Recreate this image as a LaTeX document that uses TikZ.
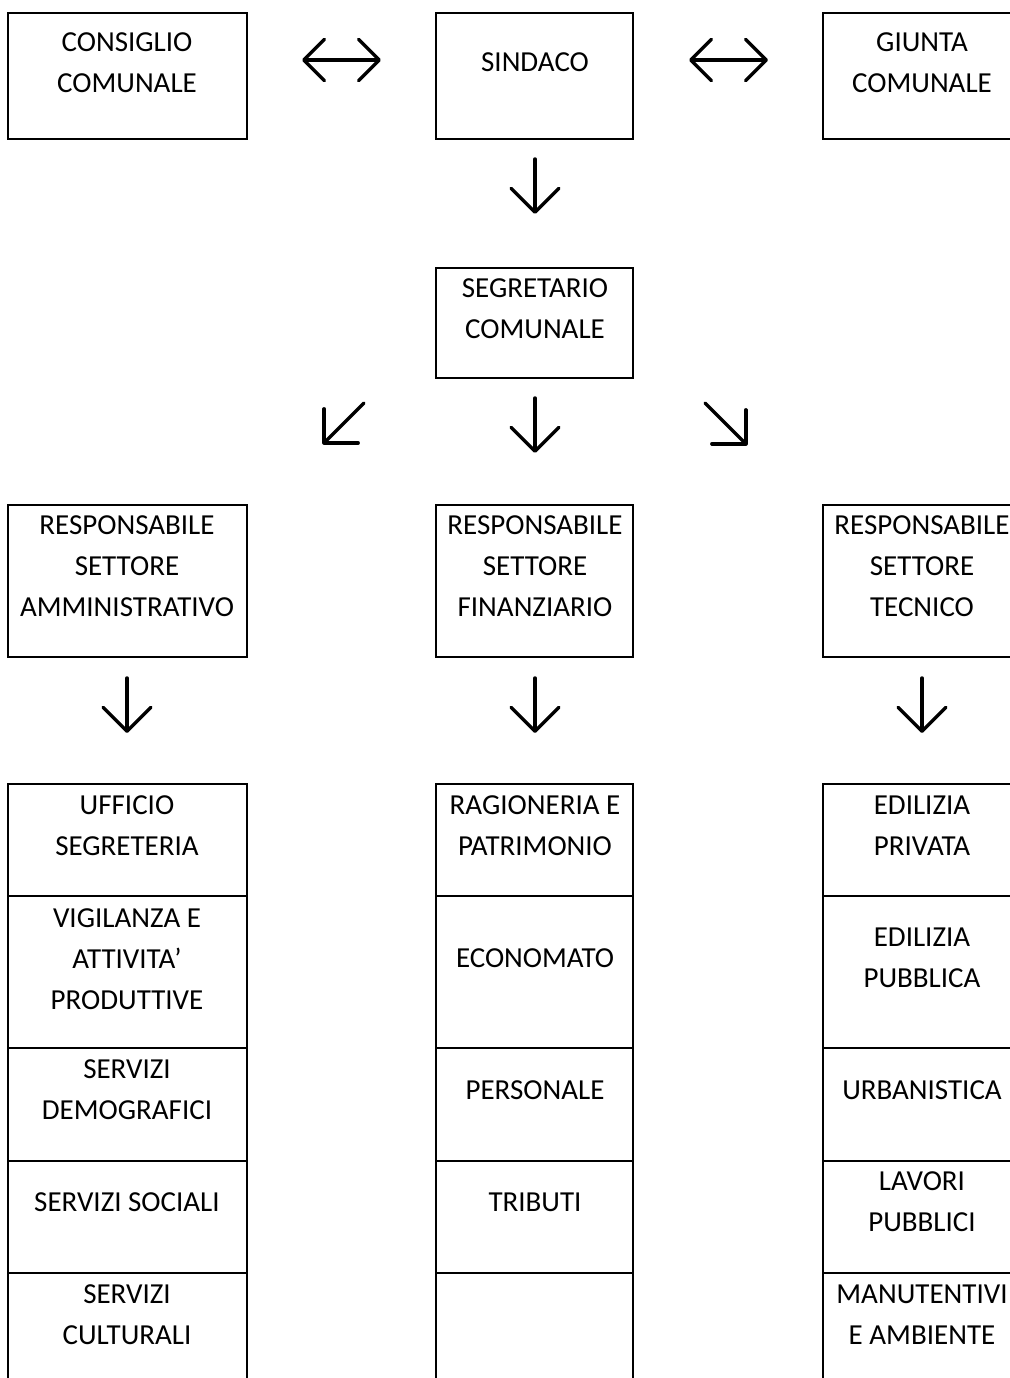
\documentclass[tikz,border=0pt]{standalone}
\usepackage{fontspec}
\setmainfont{Carlito}
\usetikzlibrary{arrows.meta,fit}
\tikzset{
  cellbox/.style={draw, line width=2.1pt, inner sep=0pt},
  txt/.style={inner sep=0pt, align=center, font=\fontsize{21.75}{30.75}\selectfont},
  barb/.tip={Straight Barb[length=18pt,width=36pt,line cap=round,line join=round]},
  sbarb/.tip={Straight Barb[length=15.5pt,width=31pt,line cap=round,line join=round]},
  arr/.style={line width=2.6pt, line cap=round, -barb},
  darr/.style={line width=2.6pt, line cap=round, sbarb-sbarb},
}
\begin{document}
\begin{tikzpicture}[x=0.75pt,y=-0.75pt]
\useasboundingbox (0,0) rectangle (1010,1378);
\clip (0,0) rectangle (1010,1378);
\fill[white] (0,0) rectangle (1010,1378);

% top row
\node[cellbox, fit={(8,13) (247,139)}] (consiglio) {};
\node[cellbox, fit={(436,13) (633,139)}] (sindaco) {};
\node[cellbox, fit={(823,13) (1021,139)}] (giunta) {};
\node[txt] (tconsiglio) at (127,63) {CONSIGLIO\\COMUNALE};
\node[txt] (tsindaco) at (535,62) {SINDACO};
\node[txt] (tgiunta) at (922,63) {GIUNTA\\COMUNALE};

\coordinate (h1a) at (302,60); \coordinate (h1b) at (381,60);
\coordinate (h2a) at (689,60); \coordinate (h2b) at (768,60);
\draw[darr] (h1a) -- (h1b);
\draw[darr] (h2a) -- (h2b);

\coordinate (v1a) at (535,159); \coordinate (v1b) at (535,214);
\draw[arr] (v1a) -- (v1b);

% segretario
\node[cellbox, fit={(436,268) (633,378)}] (segretario) {};
\node[txt] (tsegretario) at (535,309) {SEGRETARIO\\COMUNALE};

\coordinate (dla) at (364,403); \coordinate (dlb) at (323,444);
\coordinate (dma) at (535,398); \coordinate (dmb) at (535,453);
\coordinate (dra) at (705,403); \coordinate (drb) at (747,445);
\draw[arr] (dla) -- (dlb);
\draw[arr] (dma) -- (dmb);
\draw[arr] (dra) -- (drb);

% responsabili
\node[cellbox, fit={(8,505) (247,657)}] (ramm) {};
\node[cellbox, fit={(436,505) (633,657)}] (rfin) {};
\node[cellbox, fit={(823,505) (1021,657)}] (rtec) {};
\node[txt] (tramm) at (127,566) {RESPONSABILE\\SETTORE\\AMMINISTRATIVO};
\node[txt] (trfin) at (535,566) {RESPONSABILE\\SETTORE\\FINANZIARIO};
\node[txt] (trtec) at (922,566) {RESPONSABILE\\SETTORE\\TECNICO};

\coordinate (a1a) at (127,678); \coordinate (a1b) at (127,733);
\coordinate (a2a) at (535,678); \coordinate (a2b) at (535,733);
\coordinate (a3a) at (922,678); \coordinate (a3b) at (922,733);
\draw[arr] (a1a) -- (a1b);
\draw[arr] (a2a) -- (a2b);
\draw[arr] (a3a) -- (a3b);

% left column table
\node[cellbox, fit={(8,784) (247,896)}] (l1) {};
\node[cellbox, fit={(8,896) (247,1048)}] (l2) {};
\node[cellbox, fit={(8,1048) (247,1161)}] (l3) {};
\node[cellbox, fit={(8,1161) (247,1273)}] (l4) {};
\node[cellbox, fit={(8,1273) (247,1400)}] (l5) {};
\node[txt] (tl1) at (127,826) {UFFICIO\\SEGRETERIA};
\node[txt] (tl2) at (127,959) {VIGILANZA E\\ATTIVITA’\\PRODUTTIVE};
\node[txt] (tl3) at (127,1090) {SERVIZI\\DEMOGRAFICI};
\node[txt] (tl4) at (127,1202) {SERVIZI SOCIALI};
\node[txt] (tl5) at (127,1315) {SERVIZI\\CULTURALI};

% middle column table
\node[cellbox, fit={(436,784) (633,896)}] (m1) {};
\node[cellbox, fit={(436,896) (633,1048)}] (m2) {};
\node[cellbox, fit={(436,1048) (633,1161)}] (m3) {};
\node[cellbox, fit={(436,1161) (633,1273)}] (m4) {};
\node[cellbox, fit={(436,1273) (633,1400)}] (m5) {};
\node[txt] (tm1) at (535,826) {RAGIONERIA E\\PATRIMONIO};
\node[txt] (tm2) at (535,958) {ECONOMATO};
\node[txt] (tm3) at (535,1090) {PERSONALE};
\node[txt] (tm4) at (535,1202) {TRIBUTI};

% right column table
\node[cellbox, fit={(823,784) (1021,896)}] (r1) {};
\node[cellbox, fit={(823,896) (1021,1048)}] (r2) {};
\node[cellbox, fit={(823,1048) (1021,1161)}] (r3) {};
\node[cellbox, fit={(823,1161) (1021,1273)}] (r4) {};
\node[cellbox, fit={(823,1273) (1021,1400)}] (r5) {};
\node[txt] (tr1) at (922,826) {EDILIZIA\\PRIVATA};
\node[txt] (tr2) at (922,958) {EDILIZIA\\PUBBLICA};
\node[txt] (tr3) at (922,1090) {URBANISTICA};
\node[txt] (tr4) at (922,1202) {LAVORI\\PUBBLICI};
\node[txt] (tr5) at (922,1315) {MANUTENTIVI\\E AMBIENTE};
\end{tikzpicture}
\end{document}
